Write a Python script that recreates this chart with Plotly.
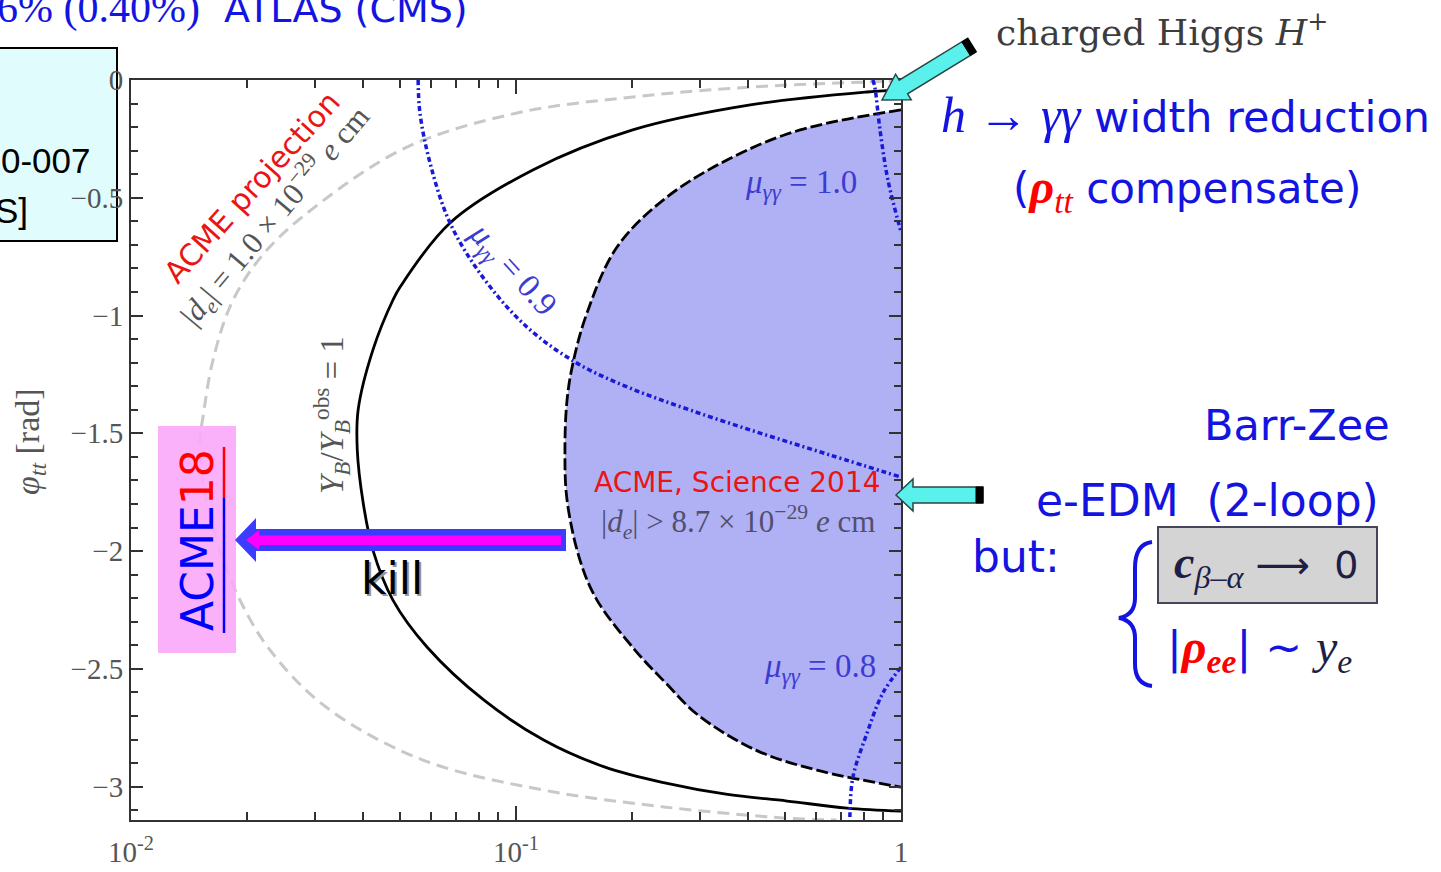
import plotly.graph_objects as go

# ---------------- curve data: CP phase phi_tt [rad] versus |rho_tt| ----------------
# ACME projection contour, |d_e| = 1.0e-29 e cm (grey dashed)
proj_x = [1.0, 0.816, 0.406, 0.201, 0.1006, 0.0521, 0.0310, 0.02254, 0.01841, 0.01633,
          0.01538, 0.01511, 0.01538, 0.01703, 0.01919, 0.02296, 0.0321, 0.0573, 0.1183,
          0.2452, 0.506, 0.68]
proj_phi = [-0.004, -0.0085, -0.030, -0.072, -0.140, -0.285, -0.522, -0.722, -0.934, -1.189,
            -1.431, -1.529, -1.711, -1.996, -2.208, -2.420, -2.662, -2.887, -3.015,
            -3.087, -3.134, -3.1416]

# Baryon asymmetry contour Y_B / Y_B^obs = 1 (solid black)
yb_x = [1.0, 0.816, 0.406, 0.201, 0.1106, 0.0674, 0.05, 0.0479, 0.0425, 0.0389,
        0.0387, 0.0401, 0.0425, 0.0479, 0.0588, 0.0826, 0.1183, 0.1703, 0.2452, 0.351,
        0.506, 0.724, 1.0]
yb_phi = [-0.042, -0.051, -0.106, -0.212, -0.382, -0.607, -0.879, -0.934, -1.146,
          -1.401, -1.571, -1.796, -1.996, -2.208, -2.408, -2.633, -2.803, -2.917, -2.985,
          -3.032, -3.061, -3.091, -3.104]

# ACME 2014 exclusion boundary, |d_e| > 8.7e-29 e cm (dashed black, shaded to the right)
acme14_x = [1.0, 0.547, 0.366, 0.2466, 0.183, 0.1529, 0.1406, 0.1357, 0.134, 0.1357,
            0.1466, 0.1623, 0.2037, 0.2452, 0.2970, 0.4198, 0.605, 1.0]
acme14_phi = [-0.127, -0.212, -0.327, -0.497, -0.709, -0.989, -1.202, -1.359, -1.571,
              -1.783, -2.038, -2.208, -2.420, -2.561, -2.696, -2.845, -2.930, -3.002]

# mu_gamma-gamma contours (blue dash-dot)
mu10_x = [0.845, 0.855, 0.882, 0.925, 1.0]
mu10_phi = [0.0, -0.03, -0.212, -0.425, -0.645]
mu09_x = [0.0557, 0.0563, 0.0598, 0.0674, 0.082, 0.1068, 0.144, 0.1977, 0.283, 0.4305,
          0.654, 1.0]
mu09_phi = [0.0, -0.140, -0.352, -0.607, -0.837, -1.049, -1.202, -1.308, -1.401, -1.499,
            -1.592, -1.686]
mu08_x = [1.0, 0.897, 0.816, 0.750, 0.737, 0.737]
mu08_phi = [-2.493, -2.603, -2.773, -2.960, -3.113, -3.1416]

# axis ticks
x_major = [0.01, 0.1, 1]
x_major_text = ["10<sup>-2</sup>", "10<sup>-1</sup>", "1"]
x_minor = [0.02, 0.03, 0.04, 0.05, 0.06, 0.07, 0.08, 0.09,
           0.2, 0.3, 0.4, 0.5, 0.6, 0.7, 0.8, 0.9]
y_major = [0, -0.5, -1, -1.5, -2, -2.5, -3]
y_major_text = ["0", "\u22120.5", "\u22121", "\u22121.5", "\u22122", "\u22122.5", "\u22123"]
y_minor = [-0.1, -0.2, -0.3, -0.4, -0.6, -0.7, -0.8, -0.9, -1.1, -1.2, -1.3, -1.4,
           -1.6, -1.7, -1.8, -1.9, -2.1, -2.2, -2.3, -2.4, -2.6, -2.7, -2.8, -2.9,
           -3.1]

# ---------------- page geometry helpers ----------------
W, H = 1441, 872
L0, R0, T0, B0 = 131, 901, 80, 820


def px(x, y):
    """Page pixel -> paper fraction."""
    return (x - L0) / (R0 - L0), (B0 - y) / (B0 - T0)


def poly(points):
    s = []
    for i, (x, y) in enumerate(points):
        X, Y = px(x, y)
        s.append(("M" if i == 0 else "L") + f"{X:.5f},{Y:.5f}")
    return " ".join(s) + " Z"


SERIF = "Liberation Serif"
COMIC = "DejaVu Sans"
BLUE_T = "rgb(20,20,225)"
GREY_T = "rgb(85,85,85)"
MU_C = "rgb(60,60,210)"

fig = go.Figure()

fig.add_trace(go.Scatter(x=acme14_x, y=acme14_phi, mode="lines", fill="toself",
                         fillcolor="rgb(176,176,245)", line=dict(width=0, shape="spline"),
                         hoverinfo="skip"))
fig.add_trace(go.Scatter(x=proj_x, y=proj_phi, mode="lines",
                         line=dict(color="rgb(200,200,200)", width=3, dash="12px,7px",
                                   shape="spline")))
fig.add_trace(go.Scatter(x=yb_x, y=yb_phi, mode="lines",
                         line=dict(color="black", width=2.8, shape="spline")))
fig.add_trace(go.Scatter(x=acme14_x, y=acme14_phi, mode="lines",
                         line=dict(color="black", width=2.8, dash="12px,4px", shape="spline")))
for mx, mphi in [(mu10_x, mu10_phi), (mu09_x, mu09_phi), (mu08_x, mu08_phi)]:
    fig.add_trace(go.Scatter(x=mx, y=mphi, mode="lines",
                             line=dict(color="rgb(25,25,215)", width=3.5,
                                       dash="5px,3px,2px,3px", shape="spline")))

shapes = []
# light cyan note box at the left edge
x0, y0 = px(-10, 48)
x1, y1 = px(117, 241)
shapes.append(dict(type="rect", xref="paper", yref="paper", x0=x0, y0=y0, x1=x1, y1=y1,
                   fillcolor="rgb(224,252,252)", line=dict(color="black", width=2),
                   layer="below"))
# pink label box
x0, y0 = px(158, 426)
x1, y1 = px(236, 653)
shapes.append(dict(type="rect", xref="paper", yref="paper", x0=x0, y0=y0, x1=x1, y1=y1,
                   fillcolor="rgb(250,168,250)", opacity=0.9, line=dict(width=0)))
# underline of the rotated label
for (ya, yb, col) in [(447, 498, "red"), (498, 633, "blue")]:
    xa, ya_ = px(224, ya)
    _, yb_ = px(224, yb)
    shapes.append(dict(type="line", xref="paper", yref="paper", x0=xa, x1=xa, y0=ya_, y1=yb_,
                       line=dict(color=col, width=2.5)))
# blue / magenta arrow pointing left
shapes.append(dict(type="path", xref="paper", yref="paper",
                   path=poly([(235, 540), (256, 518), (256, 529), (566, 529), (566, 551),
                              (256, 551), (256, 562)]),
                   fillcolor="rgb(60,60,255)", line=dict(width=0)))
shapes.append(dict(type="path", xref="paper", yref="paper",
                   path=poly([(246, 540), (259, 530), (259, 535.5), (561, 535.5),
                              (561, 545), (259, 545), (259, 550)]),
                   fillcolor="rgb(255,0,255)", line=dict(width=0)))

# cyan arrow towards the top-right corner (charged Higgs)
shapes.append(dict(type="path", xref="paper", yref="paper",
                   path=poly([(976.2, 51.8), (907.6, 93.8), (911.2, 99.8), (882, 100),
                              (895.6, 74.2), (899.2, 80.2), (967.8, 38.2)]),
                   fillcolor="rgb(90,240,235)", line=dict(color="rgb(40,70,70)", width=1.5)))
shapes.append(dict(type="path", xref="paper", yref="paper",
                   path=poly([(976.2, 51.8), (970.2, 55.5), (961.8, 41.9), (967.8, 38.2)]),
                   fillcolor="black", line=dict(color="black", width=1)))
# cyan arrow towards the ACME 2014 boundary
shapes.append(dict(type="path", xref="paper", yref="paper",
                   path=poly([(896, 495), (913, 479), (913, 487), (983, 487), (983, 503),
                              (913, 503), (913, 511)]),
                   fillcolor="rgb(90,240,235)", line=dict(color="rgb(40,70,70)", width=1.5)))
shapes.append(dict(type="path", xref="paper", yref="paper",
                   path=poly([(976, 487), (983, 487), (983, 503), (976, 503)]),
                   fillcolor="black", line=dict(color="black", width=1)))


def bp(x, y):
    X, Y = px(x, y)
    return f"{X:.5f},{Y:.5f}"


# curly brace
brace = (f"M{bp(1152, 542)} Q{bp(1135, 544)} {bp(1135, 568)} L{bp(1135, 598)} "
         f"Q{bp(1135, 615)} {bp(1119, 618)} Q{bp(1135, 621)} {bp(1135, 638)} "
         f"L{bp(1135, 664)} Q{bp(1135, 684)} {bp(1152, 686)}")
shapes.append(dict(type="path", xref="paper", yref="paper", path=brace,
                   line=dict(color=BLUE_T, width=4)))
# grey box
x0, y0 = px(1158, 527)
x1, y1 = px(1377, 603)
shapes.append(dict(type="rect", xref="paper", yref="paper", x0=x0, y0=y0, x1=x1, y1=y1,
                   fillcolor="rgb(212,212,212)", line=dict(color="rgb(70,70,90)", width=2)))

ann = []


def note(x, y, text, size, color, family, angle=0, xanchor="center"):
    X, Y = px(x, y)
    ann.append(dict(xref="paper", yref="paper", x=X, y=Y, text=text, showarrow=False,
                    textangle=angle, xanchor=xanchor, yanchor="middle",
                    font=dict(size=size, color=color, family=family)))


# axis title
note(30, 442, "<i>φ</i><sub><i>tt</i></sub> [rad]", 34, GREY_T, SERIF, angle=-90)
# in-plot labels
note(252, 188, "ACME projection", 30, "rgb(235,20,20)", COMIC, angle=-48)
note(275, 216, "|<i>d<sub>e</sub></i>| = 1.0 × 10<sup>−29</sup> <i>e</i> cm", 31, GREY_T,
     SERIF, angle=-50)
note(331, 415, "<i>Y<sub>B</sub></i>/<i>Y<sub>B</sub></i><sup>obs</sup> = 1", 33, GREY_T,
     SERIF, angle=-90)
note(512, 270, "<i>μ</i><sub><i>γγ</i></sub> = 0.9", 33, MU_C, SERIF, angle=48)
note(801, 184, "<i>μ</i><sub><i>γγ</i></sub> = 1.0", 33, MU_C, SERIF)
note(820, 668, "<i>μ</i><sub><i>γγ</i></sub> = 0.8", 33, MU_C, SERIF)
note(737, 482, "ACME, Science 2014", 28, "rgb(235,20,20)", COMIC)
note(738, 522, "|<i>d<sub>e</sub></i>| &gt; 8.7 × 10<sup>−29</sup> <i>e</i> cm", 31,
     "rgb(80,80,110)", SERIF)
note(394, 580, "kill", 44, "rgb(150,150,150)", COMIC)
note(392, 578, "kill", 44, "black", COMIC)
note(197, 540, '<span style="color:blue">ACME</span><span style="color:red">18</span>', 44,
     "blue", COMIC, angle=-90)

# text outside the frame
note(470, 9, '<span style="font-family:Liberation Serif;font-size:42px">6% (0.40%)</span>'
     '  ATLAS (CMS)', 38, BLUE_T, COMIC, xanchor="right")
note(93, 160, "0-007", 35, "black", "Liberation Sans", xanchor="right")
note(30, 210, "S]", 35, "black", "Liberation Sans", xanchor="right")
note(1162, 30, "charged Higgs <i>H</i><sup>+</sup>", 36, "rgb(60,60,60)", "DejaVu Serif")
note(1185, 115, '<span style="font-family:Liberation Serif;font-size:50px"><i>h</i> → '
     '<i>γγ</i></span> width reduction', 43, BLUE_T, COMIC)
note(1187, 190, '(<span style="color:red;font-family:Liberation Serif;font-size:48px">'
     '<b><i>ρ</i></b><sub><i>tt</i></sub></span> compensate)', 42, BLUE_T, COMIC)
note(1297, 425, "Barr-Zee", 43, BLUE_T, COMIC)
note(1207, 500, "e-EDM  (2-loop)", 44, BLUE_T, COMIC)
note(1016, 556, "but:", 44, BLUE_T, COMIC)
note(1266, 566, '<span style="font-family:Liberation Serif;color:rgb(30,30,70);font-size:46px">'
     '<b><i>c</i></b><sub><i>β–α</i></sub></span> <span style="font-family:DejaVu Sans">⟶'
     '</span>  0', 38, "rgb(30,30,70)", COMIC)
note(1259, 650, '|<span style="color:red;font-family:Liberation Serif;font-size:48px">'
     '<b><i>ρ</i></b><sub><b><i>ee</i></b></sub></span>| ~ <span style="font-family:'
     'Liberation Serif;color:rgb(30,30,70);font-size:48px"><i>y</i><sub><i>e</i></sub>'
     '</span>', 44, BLUE_T, COMIC)

axis_common = dict(showgrid=False, zeroline=False, showline=True, linecolor="rgb(50,50,50)",
                   linewidth=2, mirror="ticks", ticks="inside", tickcolor="rgb(50,50,50)",
                   tickwidth=1.6, automargin=False)

fig.update_layout(
    width=W, height=H, autosize=False,
    margin=dict(l=L0, r=W - R0, t=T0, b=H - B0),
    paper_bgcolor="white", plot_bgcolor="white", showlegend=False,
    xaxis=dict(type="log", range=[-2, 0], tickvals=x_major, ticktext=x_major_text,
               ticklen=14, ticklabelstandoff=5,
               tickfont=dict(family=SERIF, size=29, color=GREY_T),
               minor=dict(tickvals=x_minor, ticks="inside", ticklen=8,
                          tickcolor="rgb(50,50,50)", tickwidth=1.5),
               **axis_common),
    yaxis=dict(range=[-3.14159, 0], tickvals=y_major, ticktext=y_major_text, ticklen=12,
               tickfont=dict(family=SERIF, size=29, color=GREY_T),
               minor=dict(tickvals=y_minor, ticks="inside", ticklen=7,
                          tickcolor="rgb(50,50,50)", tickwidth=1.5),
               **axis_common),
    shapes=shapes, annotations=ann,
)

fig.write_html("out.html")
